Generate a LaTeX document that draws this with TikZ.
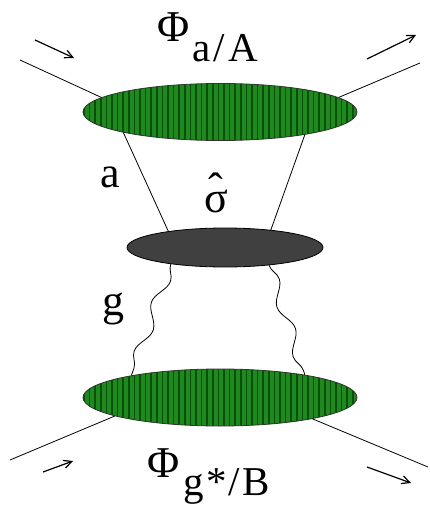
\documentclass[tikz,border=0pt]{standalone}
\usepackage{fontspec}
\setmainfont{Liberation Serif}
\usepackage{xcolor}
\usetikzlibrary{shapes.geometric, patterns.meta, decorations.pathmorphing, arrows.meta}
\definecolor{pdfgreen}{HTML}{1E8A1E}
\definecolor{pdfstripe}{HTML}{0B4D0B}
\definecolor{hardgray}{HTML}{404040}

\begin{document}
\begin{tikzpicture}[x=1pt, y=-1pt, line width=0.8pt,
    font=\fontsize{44}{48}\selectfont,
    pdfblob/.style={ellipse, draw=black!80, fill=pdfgreen, inner sep=0pt,
        minimum width=274pt, minimum height=57pt,
        postaction={pattern={Lines[angle=90, distance=5.6pt, line width=1.7pt]},
                    pattern color=pdfstripe}},
    hardblob/.style={ellipse, draw=black, fill=hardgray, inner sep=0pt,
        minimum width=196pt, minimum height=39pt},
    gluon/.style={decorate, decoration={snake, segment length=52pt, amplitude=5.5pt}},
    flow/.style={-{Straight Barb[length=8pt, width=8pt]}, line width=1.2pt},
    lab/.style={inner sep=0pt}]

    \useasboundingbox (0,0) rectangle (429,505);

    % Parton densities (top and bottom) and hard part in the middle
    \node[pdfblob] (pdfA) at (220,112) {};
    \node[hardblob] (hard) at (225,247.5) {};
    \node[pdfblob] (pdfB) at (220,397.5) {};

    % Free ends of the hadron lines
    \coordinate (inA) at (20,60);
    \coordinate (outA) at (420,63);
    \coordinate (inB) at (10,460);
    \coordinate (outB) at (428,467);

    % Hadron lines
    \draw (inA) -- (pdfA.173);
    \draw (pdfA.7) -- (outA);
    \draw (inB) -- (pdfB.190);
    \draw (pdfB.-13) -- (outB);

    % Parton a into the hard part
    \draw (pdfA.192) -- (hard.164);
    \draw (pdfA.-15) -- (hard.21);

    % Gluon lines from the lower density
    \draw[gluon] (hard.197) -- (pdfB.166);
    \draw[gluon] (hard.-22) -- (pdfB.15);

    % Direction arrows
    \coordinate (arrA1) at (35,40);  \coordinate (arrA2) at (74,58);
    \coordinate (arrA3) at (367,59); \coordinate (arrA4) at (416,35);
    \coordinate (arrB1) at (43,472); \coordinate (arrB2) at (73,461);
    \coordinate (arrB3) at (367,467); \coordinate (arrB4) at (411,483);
    \draw[flow] (arrA1) -- (arrA2);
    \draw[flow] (arrA3) -- (arrA4);
    \draw[flow] (arrB1) -- (arrB2);
    \draw[flow] (arrB3) -- (arrB4);

    % Labels
    \node[lab, anchor=base west] (phiA) at (157,42)
        {Φ\kern3pt\raisebox{-20pt}{\fontsize{41}{44}\selectfont a\kern3pt/\kern3pt A}};
    \node[lab, anchor=base west] (phiB) at (147,477)
        {Φ\kern4pt\raisebox{-18pt}{\fontsize{41}{44}\selectfont g\kern2pt*\kern2pt/\kern3pt B}};
    \node[lab, anchor=base] (labA) at (110,187) {a};
    \node[lab, anchor=base] (labG) at (113,315) {g};
    \node[lab, anchor=base] (sigma) at (216,212)
        {\ooalign{σ\cr\hidewidth\raisebox{9pt}{ˆ}\hidewidth\cr}};

\end{tikzpicture}
\end{document}
